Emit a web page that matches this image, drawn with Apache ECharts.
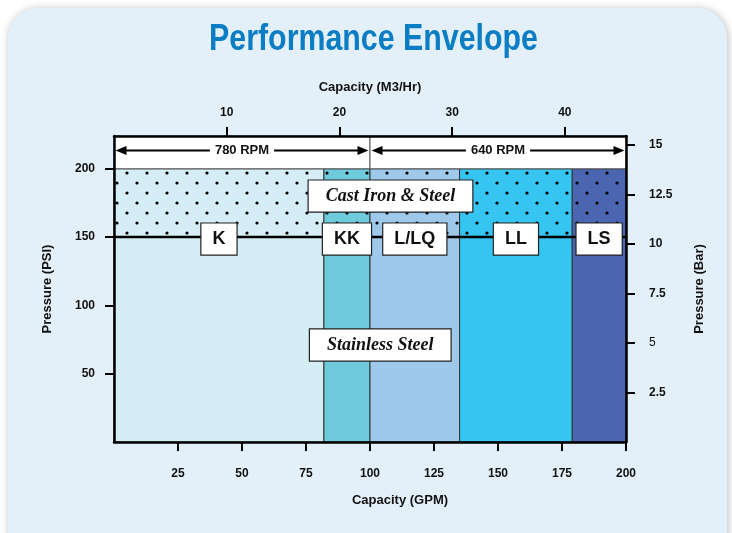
<!DOCTYPE html>
<html>
<head>
<meta charset="utf-8">
<script src="https://cdn.jsdelivr.net/npm/echarts@6/dist/echarts.min.js"></script>
<style>
  html, body { margin: 0; padding: 0; background: #ffffff; }
  #chart { width: 732px; height: 533px; }
</style>
</head>
<body>
<div id="chart"></div>
<script>
// ---------------- data ----------------
const gpmTicks = [25, 50, 75, 100, 125, 150, 175, 200];
const m3hrTicks = [10, 20, 30, 40];
const psiTicks = [50, 100, 150, 200];
const barTicks = [2.5, 5, 7.5, 10, 12.5, 15];

const models = ['K', 'KK', 'L/LQ', 'LL', 'LS'];
const modelGpmFrom = [0, 82, 100, 135, 179];
const modelGpmTo = [82, 100, 135, 179, 200];

const stainlessMaxPsi = 150;
const castIronMaxPsi = 200;

const rpmLabels = ['780 RPM', '640 RPM'];
const rpmGpmFrom = [0, 100];
const rpmGpmTo = [100, 200];

const materialLabels = ['Cast Iron & Steel', 'Stainless Steel'];
const materialGpm = [108, 104];
const materialPsi = [180, 71];

const gpmMax = 200;
const psiMax = 224;
const GPM_TO_M3HR = 0.22712;
const PSI_PER_BAR = 14.5038;

// ---------------- styles ----------------
const modelColors = ['#d5edf4', '#6dcbdc', '#9ec9ea', '#35c5f0', '#4a66b0'];
const FONT = '"Liberation Sans", Arial, Helvetica, sans-serif';
const SERIF = '"Liberation Serif", "Times New Roman", serif';

function dotPattern(color) {
  const c = document.createElement('canvas');
  c.width = 20; c.height = 20;
  const g = c.getContext('2d');
  g.fillStyle = color; g.fillRect(0, 0, 20, 20);
  g.fillStyle = '#000';
  [[7, 13], [17, 3]].forEach(function (p) {
    g.beginPath(); g.arc(p[0], p[1], 1.6, 0, Math.PI * 2); g.fill();
  });
  return { image: c, repeat: 'repeat' };
}
const patterns = modelColors.map(dotPattern);

// region rectangles built from the data arrays
const regionData = [];
models.forEach(function (m, i) {
  regionData.push([modelGpmFrom[i], modelGpmTo[i], 0, stainlessMaxPsi, i, 0]);
  regionData.push([modelGpmFrom[i], modelGpmTo[i], stainlessMaxPsi, castIronMaxPsi, i, 1]);
});
rpmLabels.forEach(function (r, i) {
  regionData.push([rpmGpmFrom[i], rpmGpmTo[i], castIronMaxPsi, psiMax, -1, 0]);
});

const modelLabelData = models.map(function (m, i) {
  return [(modelGpmFrom[i] + modelGpmTo[i]) / 2, stainlessMaxPsi, m];
});
const rpmData = rpmLabels.map(function (r, i) {
  return [rpmGpmFrom[i], rpmGpmTo[i], r];
});
const materialData = materialLabels.map(function (t, i) {
  return [materialGpm[i], materialPsi[i], t];
});

const chart = echarts.init(document.getElementById('chart'), null, { renderer: 'canvas' });

const axisLabelBase = { color: '#111', fontFamily: FONT, fontWeight: 'bold', fontSize: 12 };
const nameBase = { color: '#111', fontFamily: FONT, fontWeight: 'bold', fontSize: 13 };
const axisLineStyle = { show: true, onZero: false, lineStyle: { color: '#000', width: 2.5 } };
const tickStyle = { show: true, inside: false, length: 9, lineStyle: { color: '#000', width: 2 } };

const option = {
  backgroundColor: '#ffffff',
  animation: false,
  graphic: [
    {
      type: 'rect', z: -10, silent: true,
      shape: { x: 8, y: 8, width: 719, height: 580, r: 30 },
      style: { fill: '#e4f0f9', shadowBlur: 8, shadowColor: 'rgba(0,0,0,0.28)', shadowOffsetX: 1, shadowOffsetY: 1 }
    },
    {
      type: 'text', z: 10, x: 373.5, y: 40, scaleX: 0.82,
      style: { text: 'Performance Envelope', fill: '#0a7dc4', font: 'bold 37px ' + FONT, align: 'center', verticalAlign: 'middle' }
    }
  ],
  grid: { left: 114, right: 106, top: 136, bottom: 91, show: false },
  xAxis: [
    {
      type: 'value', position: 'bottom', min: 0, max: gpmMax, z: 10,
      name: 'Capacity (GPM)', nameLocation: 'middle', nameGap: 52,
      nameTextStyle: Object.assign({}, nameBase, { padding: [0, 0, 0, 60] }),
      axisLine: axisLineStyle,
      axisTick: Object.assign({}, tickStyle, { customValues: gpmTicks }),
      axisLabel: Object.assign({}, axisLabelBase, { margin: 26, customValues: gpmTicks }),
      splitLine: { show: false }
    },
    {
      type: 'value', position: 'top', min: 0, max: gpmMax * GPM_TO_M3HR, z: 10,
      name: 'Capacity (M3/Hr)', nameLocation: 'middle', nameGap: 42,
      nameTextStyle: nameBase,
      axisLine: axisLineStyle,
      axisTick: Object.assign({}, tickStyle, { customValues: m3hrTicks }),
      axisLabel: Object.assign({}, axisLabelBase, { margin: 17, customValues: m3hrTicks }),
      splitLine: { show: false }
    }
  ],
  yAxis: [
    {
      type: 'value', position: 'left', min: 0, max: psiMax, z: 10,
      name: 'Pressure (PSI)', nameLocation: 'middle', nameGap: 60,
      nameTextStyle: nameBase,
      axisLine: axisLineStyle,
      axisTick: Object.assign({}, tickStyle, { customValues: psiTicks }),
      axisLabel: Object.assign({}, axisLabelBase, { margin: 19, customValues: psiTicks }),
      splitLine: { show: false }
    },
    {
      type: 'value', position: 'right', min: 0, max: psiMax / PSI_PER_BAR, z: 10,
      name: 'Pressure (Bar)', nameLocation: 'middle', nameGap: 67,
      nameTextStyle: nameBase,
      axisLine: axisLineStyle,
      axisTick: Object.assign({}, tickStyle, { customValues: barTicks }),
      axisLabel: Object.assign({}, axisLabelBase, {
        margin: 23, customValues: barTicks,
        formatter: function (v) { return v === 5 ? '{r|5}' : String(v); },
        rich: { r: { fontFamily: FONT, fontWeight: 'normal', fontSize: 12, color: '#111' } }
      }),
      splitLine: { show: false }
    }
  ],
  series: [
    {
      type: 'custom', name: 'regions', xAxisIndex: 0, yAxisIndex: 0, z: 2, silent: true,
      data: regionData, encode: { x: [0, 1], y: [2, 3] },
      renderItem: function (params, api) {
        const x0 = api.value(0), x1 = api.value(1), y0 = api.value(2), y1 = api.value(3);
        const ci = api.value(4), dotted = api.value(5);
        const a = api.coord([x0, y1]);
        const b = api.coord([x1, y0]);
        const fill = ci < 0 ? '#ffffff' : (dotted ? patterns[ci] : modelColors[ci]);
        return {
          type: 'rect',
          shape: { x: a[0], y: a[1], width: b[0] - a[0], height: b[1] - a[1] },
          style: { fill: fill, stroke: ci < 0 ? '#555' : '#333', lineWidth: 1 }
        };
      }
    },
    {
      type: 'line', name: 'limit', xAxisIndex: 0, yAxisIndex: 0, z: 3, silent: true,
      data: [[0, stainlessMaxPsi], [gpmMax, stainlessMaxPsi]],
      symbol: 'none', lineStyle: { color: '#000', width: 2.5 }
    },
    {
      type: 'custom', name: 'rpm', xAxisIndex: 0, yAxisIndex: 0, z: 4, silent: true,
      data: rpmData, encode: { x: [0, 1] },
      renderItem: function (params, api) {
        const a = api.coord([api.value(0), psiMax]);
        const b = api.coord([api.value(1), castIronMaxPsi]);
        const y = (a[1] + b[1]) / 2 - 2;
        const xl = a[0] + 1.5, xr = b[0] - 1.5;
        const label = rpmLabels[params.dataIndex];
        return {
          type: 'group',
          children: [
            { type: 'line', shape: { x1: xl + 6, y1: y, x2: xr - 6, y2: y }, style: { stroke: '#000', lineWidth: 2 } },
            { type: 'polygon', shape: { points: [[xl, y], [xl + 11, y - 4.5], [xl + 11, y + 4.5]] }, style: { fill: '#000' } },
            { type: 'polygon', shape: { points: [[xr, y], [xr - 11, y - 4.5], [xr - 11, y + 4.5]] }, style: { fill: '#000' } },
            {
              type: 'text', x: (a[0] + b[0]) / 2, y: y,
              style: { text: label, font: 'bold 13px ' + FONT, fill: '#111', align: 'center', verticalAlign: 'middle',
                       backgroundColor: '#ffffff', padding: [1, 5] }
            }
          ]
        };
      }
    },
    {
      type: 'custom', name: 'models', xAxisIndex: 0, yAxisIndex: 0, z: 5, silent: true,
      data: modelLabelData, encode: { x: 0, y: 1 },
      renderItem: function (params, api) {
        const p = api.coord([api.value(0), api.value(1)]);
        return {
          type: 'text', x: p[0], y: p[1] + 2,
          style: { text: models[params.dataIndex], font: 'bold 18px ' + FONT, fill: '#111',
                   align: 'center', verticalAlign: 'middle',
                   backgroundColor: '#ffffff', borderColor: '#222', borderWidth: 1.2, padding: [7, 11, 6, 11] }
        };
      }
    },
    {
      type: 'custom', name: 'materials', xAxisIndex: 0, yAxisIndex: 0, z: 5, silent: true,
      data: materialData, encode: { x: 0, y: 1 },
      renderItem: function (params, api) {
        const p = api.coord([api.value(0), api.value(1)]);
        return {
          type: 'text', x: p[0], y: p[1],
          style: { text: materialLabels[params.dataIndex], font: 'italic bold 18px ' + SERIF, fill: '#111',
                   align: 'center', verticalAlign: 'middle',
                   backgroundColor: '#ffffff', borderColor: '#222', borderWidth: 1.2, padding: [7, 17, 6, 17] }
        };
      }
    }
  ]
};
chart.setOption(option);
</script>
</body>
</html>
